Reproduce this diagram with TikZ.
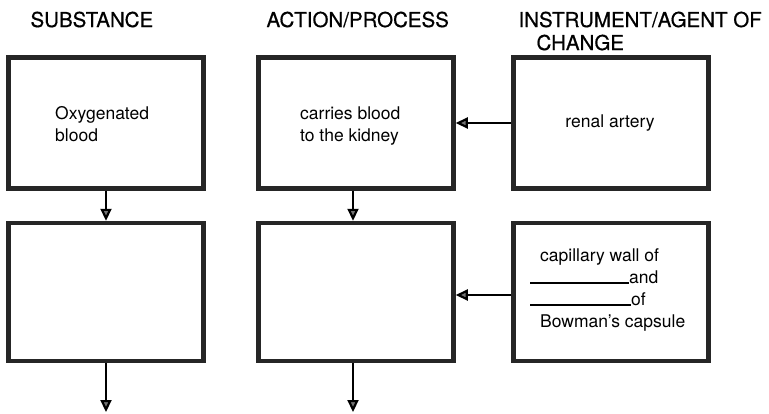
\documentclass[tikz,border=0pt]{standalone}
\usepackage{fontspec}
\setmainfont{TeX Gyre Heros}
\newfontfamily\headfont[FakeBold=0.6]{TeX Gyre Heros}
\usetikzlibrary{arrows.meta}
\begin{document}
\begin{tikzpicture}[x=1pt,y=-1pt,
  box/.style={draw=black!85,line width=4.5pt,minimum width=195pt,minimum height=131pt,inner sep=0pt},
  head/.style={anchor=base west,font=\headfont\fontsize{20.5}{23}\selectfont},
  txt/.style={align=left,inner sep=0pt,font=\fontsize{17.5}{22}\selectfont},
  flow/.style={line width=2.2pt,-{Triangle[width=11pt,length=12pt,fill=black!55]}}]
  \useasboundingbox (0,0) rectangle (769,413);

  \node[head] (hsub) at (27,27) {SUBSTANCE};
  \node[head] (hact) at (263,27) {ACTION/PROCESS};
  \node[head] (hins) at (515,27) {INSTRUMENT/AGENT OF};
  \node[head] (hchg) at (533,50) {CHANGE};

  \node[box] (sub1) at (106,123) {};
  \node[box] (act1) at (356,123) {};
  \node[box] (ins1) at (611,123) {};
  \node[box,minimum height=138pt] (sub2) at (106,292) {};
  \node[box,minimum height=138pt] (act2) at (356,292) {};
  \node[box,minimum height=138pt] (ins2) at (611,292) {};

  \node[txt,anchor=west] (t1) at (55,124) {Oxygenated\\blood};
  \node[txt,anchor=west] (t2) at (300,126) {carries blood\\to the kidney};
  \node[txt] (t3) at (610,123) {renal artery};
  \node[txt,anchor=west] (t4) at (530,290) {\hspace{10pt}capillary wall of\\
    \rule{99pt}{1.4pt}and\\
    \rule{101pt}{1.4pt}of\\
    \hspace{10pt}Bowman’s capsule};

  \coordinate (end1) at (106,412);
  \coordinate (end2) at (353,412);

  \draw[flow] (sub1) -- (sub2);
  \draw[flow] (act1.south -| end2) -- (act2.north -| end2);
  \draw[flow] (ins1) -- (act1);
  \draw[flow] (ins2.west) ++(0,3) -- (act2.east |- 0,295);
  \draw[flow] (sub2) -- (end1);
  \draw[flow] (act2.south -| end2) -- (end2);
\end{tikzpicture}
\end{document}
